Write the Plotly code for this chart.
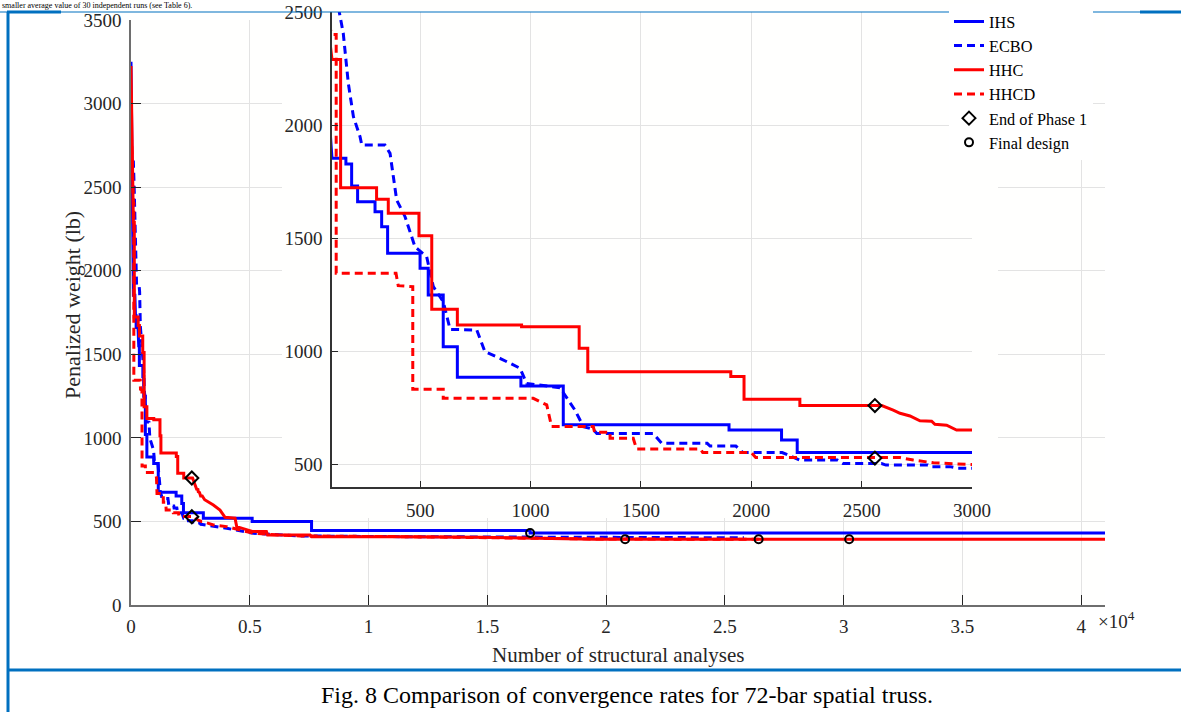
import plotly.graph_objects as go

# ---------------- data ----------------
ihs_x = [0, 60, 100, 163, 163, 189, 189, 216, 216, 295, 295, 325, 325, 352, 352, 499, 499, 536, 536,
         604, 604, 668, 668, 956, 956, 1148, 1148, 1899, 1899, 2137, 2137, 2208, 2208, 3045, 3045,
         5100, 5100, 7600, 7600, 16800, 16800, 41000]
ihs_y = [3250, 2400, 1853, 1853, 1828, 1828, 1731, 1731, 1661, 1661, 1617, 1617, 1551, 1551, 1433,
         1433, 1367, 1367, 1249, 1249, 1020, 1020, 885, 885, 846, 846, 675, 675, 652, 652, 608, 608,
         552, 552, 519, 519, 499, 499, 445, 445, 431, 431]

ecbo_x = [0, 100, 133, 151, 174, 197, 227, 235, 340, 363, 393, 431, 476, 529, 559, 604, 635, 756,
          793, 861, 952, 982, 1133, 1201, 1239, 1284, 1300, 1555, 1594, 1800, 1813, 1930, 1962,
          2140, 2220, 2390, 2415, 2590, 2610, 2800, 2810, 2900, 2936, 3000, 3326, 4028, 5150,
          7116, 11330, 20000, 25800]
ecbo_y = [2650, 2650, 2500, 2406, 2184, 2037, 1949, 1912, 1912, 1875, 1669, 1595, 1462, 1418, 1286,
          1219, 1097, 1094, 998, 969, 925, 858, 839, 740, 667, 655, 637, 637, 593, 593, 581, 581,
          552, 552, 519, 519, 504, 504, 497, 497, 490, 490, 483, 482, 476, 459, 429, 413, 409,
          405, 402]

hhc_x = [0, 50, 100, 139, 139, 302, 302, 355, 355, 494, 494, 552, 552, 668, 668, 959, 959, 1220,
         1220, 1259, 1259, 1907, 1907, 1967, 1967, 2220, 2220, 2591, 2643, 2674, 2719, 2764, 2817,
         2832, 2885, 2930, 3000, 3100, 3467, 3747, 3958, 4379, 4449, 5137, 5700, 5750, 7540, 7600,
         11330, 14700, 19500, 41000]
hhc_y = [3225, 2700, 2290, 2290, 1723, 1723, 1672, 1672, 1610, 1610, 1511, 1511, 1186, 1186, 1116,
         1116, 1109, 1109, 1013, 1013, 910, 910, 888, 888, 788, 788, 760, 760, 740, 726, 714, 693,
         691, 677, 673, 652, 652, 630, 598, 568, 525, 519, 469, 439, 439, 419, 419, 409, 409, 405,
         393, 393]

hhcd_x = [0, 50, 100, 119, 119, 390, 400, 461, 466, 466, 604, 604, 1012, 1073, 1095, 1284, 1290,
          1360, 1360, 1465, 1480, 1770, 1780, 2000, 2020, 2674, 2734, 2825, 2975, 3000, 3467, 4028,
          4590, 5150, 6274, 7116, 11330, 14700, 15750, 19500, 26420]
hhcd_y = [2900, 2550, 2401, 2401, 1345, 1345, 1290, 1286, 1286, 832, 832, 792, 792, 763, 667, 667,
          642, 642, 615, 615, 568, 568, 552, 552, 530, 530, 519, 507, 500, 500, 479, 469, 449, 429,
          419, 413, 409, 405, 400, 395, 393]

phase1_x = [2560, 2560]
phase1_y = [760, 528]
final_x = [16800, 20800, 26420, 30230]
final_y = [431, 393, 393, 393]

main_xticks = [0, 5000, 10000, 15000, 20000, 25000, 30000, 35000, 40000]
main_xtext = ["0", "0.5", "1", "1.5", "2", "2.5", "3", "3.5", "4"]
main_yticks = [0, 500, 1000, 1500, 2000, 2500, 3000, 3500]
inset_xticks = [500, 1000, 1500, 2000, 2500, 3000]
inset_yticks = [500, 1000, 1500, 2000, 2500]

# ---------------- styling ----------------
W, H = 1181, 712
FONT = "Liberation Serif"
TXT = "#262626"
BLUE = "#0000FF"
RED = "#FF0000"
FRAME = "#0070C0"


def dx(p):
    return p / W


def dy(p):
    return 1 - p / H


series = [
    ("IHS", ihs_x, ihs_y, BLUE, "solid"),
    ("ECBO", ecbo_x, ecbo_y, BLUE, "8px,5px"),
    ("HHC", hhc_x, hhc_y, RED, "solid"),
    ("HHCD", hhcd_x, hhcd_y, RED, "8px,5px"),
]

fig = go.Figure()

# main axes traces
for name, xs, ys, col, dash in series:
    fig.add_trace(go.Scatter(x=xs, y=ys, mode="lines", name=name, showlegend=False,
                             line=dict(color=col, width=3, dash=dash),
                             xaxis="x", yaxis="y", hoverinfo="skip"))
fig.add_trace(go.Scatter(x=phase1_x, y=phase1_y, mode="markers", showlegend=False,
                         marker=dict(symbol="diamond-open", size=10, color="black",
                                     line=dict(width=2, color="black")),
                         xaxis="x", yaxis="y", hoverinfo="skip"))
fig.add_trace(go.Scatter(x=final_x, y=final_y, mode="markers", name="Final design",
                         showlegend=True, legendrank=6,
                         marker=dict(symbol="circle-open", size=8, color="black",
                                     line=dict(width=2, color="black")),
                         xaxis="x", yaxis="y", hoverinfo="skip"))

# white cover behind the inset (empty subplot)
fig.add_trace(go.Scatter(x=[None], y=[None], mode="markers", showlegend=False,
                         xaxis="x2", yaxis="y2", hoverinfo="skip"))

# inset traces
rank = 1
for name, xs, ys, col, dash in series:
    fig.add_trace(go.Scatter(x=xs, y=ys, mode="lines", name=name, showlegend=True,
                             legendrank=rank,
                             line=dict(color=col, width=3, dash=dash),
                             xaxis="x3", yaxis="y3", hoverinfo="skip"))
    rank += 1
fig.add_trace(go.Scatter(x=phase1_x, y=phase1_y, mode="markers", name="End of Phase 1",
                         showlegend=True, legendrank=5,
                         marker=dict(symbol="diamond-open", size=10, color="black",
                                     line=dict(width=2, color="black")),
                         xaxis="x3", yaxis="y3", hoverinfo="skip"))

tickfont = dict(family=FONT, size=19, color=TXT)

fig.update_layout(
    width=W, height=H,
    margin=dict(l=0, r=0, t=0, b=0, autoexpand=False),
    paper_bgcolor="white",
    plot_bgcolor="#fffffe",
    showlegend=True,
    xaxis=dict(domain=[dx(131), dx(1105)], range=[0, 41000], anchor="y",
               tickmode="array", tickvals=main_xticks, ticktext=main_xtext,
               ticks="inside", ticklen=10, tickwidth=1, tickcolor=TXT,
               showline=True, linecolor="#6e6e6e", linewidth=1.5, mirror=False,
               showgrid=True, gridcolor="#e3e3e3", gridwidth=1, zeroline=False,
               tickfont=tickfont, ticklabelstandoff=3, fixedrange=True),
    yaxis=dict(domain=[dy(605), dy(20)], range=[0, 3500], anchor="x",
               tickmode="array", tickvals=main_yticks,
               ticks="inside", ticklen=10, tickwidth=1, tickcolor=TXT,
               showline=True, linecolor="#6e6e6e", linewidth=1.5, mirror=False,
               showgrid=True, gridcolor="#e3e3e3", gridwidth=1, zeroline=False,
               tickfont=tickfont, ticklabelstandoff=4, fixedrange=True),
    xaxis2=dict(domain=[dx(282), dx(998)], range=[0, 1], anchor="y2", visible=False,
                fixedrange=True),
    yaxis2=dict(domain=[dy(518), 1.0], range=[0, 1], anchor="x2", visible=False,
                fixedrange=True),
    xaxis3=dict(domain=[dx(332), dx(972)], range=[100, 3000], anchor="y3",
                tickmode="array", tickvals=inset_xticks,
                ticks="inside", ticklen=6, tickwidth=1, tickcolor=TXT,
                showline=True, linecolor="#333333", linewidth=1.5, mirror=False,
                showgrid=True, gridcolor="#e3e3e3", gridwidth=1, zeroline=False,
                tickfont=tickfont, ticklabelstandoff=5, fixedrange=True),
    yaxis3=dict(domain=[dy(487), dy(12)], range=[400, 2500], anchor="x3",
                tickmode="array", tickvals=inset_yticks,
                ticks="inside", ticklen=6, tickwidth=1, tickcolor=TXT,
                showline=True, linecolor="#333333", linewidth=1.5, mirror=False,
                showgrid=True, gridcolor="#e3e3e3", gridwidth=1, zeroline=False,
                tickfont=tickfont, ticklabelstandoff=4, fixedrange=True),
    legend=dict(x=dx(949), y=dy(4.3), xanchor="left", yanchor="top",
                bgcolor="white", borderwidth=0, traceorder="normal",
                font=dict(family=FONT, size=16.3, color="black"),
                itemwidth=30),
)

annotations = [
    dict(text="Penalized weight (lb)", x=dx(72), y=dy(305), textangle=-90,
         font=dict(family=FONT, size=22, color=TXT)),
    dict(text="Number of structural analyses", x=dx(618), y=dy(655),
         font=dict(family=FONT, size=21, color=TXT)),
    dict(text="×10<sup>4</sup>", x=dx(1096), y=dy(620), xanchor="left",
         font=dict(family=FONT, size=19, color=TXT)),
    # page text above the figure frame (shrunk to fit the strip above the frame)
    dict(text="smaller average value of 30 independent runs (see Table 6).",
         x=dx(1), y=1, xanchor="left", yanchor="top", borderpad=0,
         font=dict(family=FONT, size=8, color="black")),
    # caption below the figure frame
    dict(text="Fig. 8 Comparison of convergence rates for 72-bar spatial truss.",
         x=dx(627), y=dy(695), xanchor="center", yanchor="middle", borderpad=0,
         font=dict(family=FONT, size=24, color="black")),
]
for a in annotations:
    a.setdefault("xanchor", "center")
    a.setdefault("yanchor", "middle")
    a.update(xref="paper", yref="paper", showarrow=False)
fig.update_layout(annotations=annotations)

# page frame lines
shapes = [
    dict(type="line", x0=0, x1=1, y0=dy(12), y1=dy(12), line=dict(color=FRAME, width=1.2)),
    dict(type="line", x0=dx(7), x1=dx(61), y0=dy(12), y1=dy(12), line=dict(color=FRAME, width=3)),
    dict(type="line", x0=dx(1140), x1=1, y0=dy(12), y1=dy(12), line=dict(color=FRAME, width=3)),
    dict(type="line", x0=dx(8), x1=dx(8), y0=dy(12), y1=0, line=dict(color=FRAME, width=3)),
    dict(type="line", x0=dx(8), x1=1, y0=dy(670), y1=dy(670), line=dict(color=FRAME, width=3)),
]
for s in shapes:
    s.update(xref="paper", yref="paper", layer="above")
fig.update_layout(shapes=shapes)

fig.write_html(
    "out.html",
    config={"displayModeBar": False},
    post_script="document.body.style.margin='0px';document.body.style.padding='0px';",
)
